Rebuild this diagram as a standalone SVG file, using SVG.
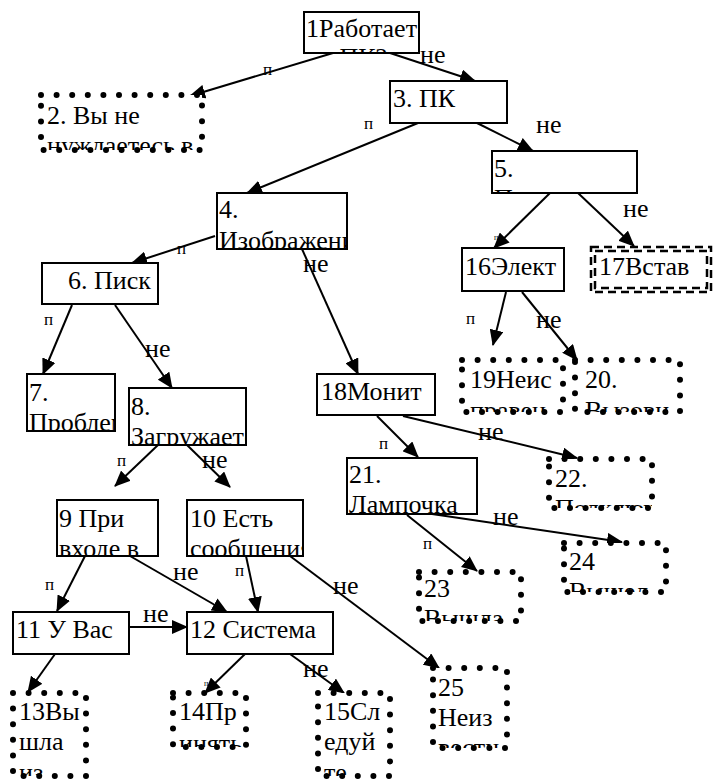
<svg xmlns="http://www.w3.org/2000/svg" width="715" height="780" viewBox="0 0 715 780" font-family="'Liberation Serif', 'Times New Roman', serif">
<style>
text{font-family:"Liberation Serif","Times New Roman",serif;font-size:26px;fill:#000}
text.y{font-size:17px}
text.t{font-size:8px}
.b{fill:#fff;stroke:#000;stroke-width:2}
.d{fill:#fff;stroke:#000;stroke-width:6;stroke-linecap:round;stroke-dasharray:0 15.6}
.dd{fill:none;stroke:#000;stroke-width:2.5;stroke-dasharray:8 5}
.c line{stroke:#000;stroke-width:2;marker-end:url(#ah)}
</style>
<defs>
<marker id="ah" markerWidth="16" markerHeight="14" refX="15" refY="7" orient="auto" markerUnits="userSpaceOnUse"><path d="M0,0 L16,7 L0,14 z" fill="#000"/></marker>
</defs>
<rect width="715" height="780" fill="#fff"/>
<g class="c" id="connectors">
<line x1="333" y1="53" x2="190" y2="96"/>
<line x1="390" y1="53" x2="475" y2="81"/>
<line x1="418" y1="123" x2="247" y2="193"/>
<line x1="477" y1="123" x2="533" y2="151"/>
<line x1="550" y1="193" x2="494" y2="248"/>
<line x1="578" y1="193" x2="634" y2="246"/>
<line x1="215" y1="236" x2="132" y2="263"/>
<line x1="302" y1="249" x2="358" y2="374"/>
<line x1="72" y1="305" x2="43" y2="374"/>
<line x1="115" y1="305" x2="172" y2="388"/>
<line x1="158" y1="445" x2="115" y2="486"/>
<line x1="187" y1="445" x2="230" y2="487"/>
<line x1="85" y1="556" x2="57" y2="611"/>
<line x1="130" y1="556" x2="227" y2="612"/>
<line x1="246" y1="556" x2="258" y2="612"/>
<line x1="290" y1="556" x2="439" y2="668"/>
<line x1="129" y1="627" x2="187" y2="627"/>
<line x1="55" y1="654" x2="28" y2="692"/>
<line x1="245" y1="654" x2="205" y2="693"/>
<line x1="290" y1="654" x2="344" y2="693"/>
<line x1="506" y1="292" x2="493" y2="345"/>
<line x1="522" y1="292" x2="577" y2="360"/>
<line x1="377" y1="416" x2="418" y2="457"/>
<line x1="403" y1="416" x2="577" y2="458"/>
<line x1="407" y1="515" x2="477" y2="571"/>
<line x1="432" y1="514" x2="622" y2="542"/>
</g>
<g id="labels">
<text x="420" y="63">не</text>
<text x="536" y="133">не</text>
<text x="623" y="217">не</text>
<text x="303" y="272">не</text>
<text x="145" y="357">не</text>
<text x="202" y="468">не</text>
<text x="173" y="580">не</text>
<text x="333" y="594">не</text>
<text x="143" y="622">не</text>
<text x="303" y="677">не</text>
<text x="536" y="328">не</text>
<text x="478" y="440">не</text>
<text x="493" y="525">не</text>
<text class="y" x="263" y="75">п</text>
<text class="y" x="364" y="129">п</text>
<text class="y" x="177" y="254">п</text>
<text class="y" x="44" y="325">п</text>
<text class="y" x="117" y="466">п</text>
<text class="y" x="45" y="590">п</text>
<text class="y" x="235" y="576">п</text>
<text class="y" x="466" y="324">п</text>
<text class="y" x="379" y="449">п</text>
<text class="y" x="423" y="549">п</text>
<text class="t" x="494" y="240">п</text>
<text class="t" x="204" y="686">п</text>
</g>
<g id="n1"><rect class="b" x="304" y="12" width="115" height="41"/><svg x="304" y="12" width="115" height="41" viewBox="304 12 115 41"><text x="306" y="37">1Работает</text><text x="306" y="66">ли ПК?</text></svg></g>
<g id="n2"><rect class="d" x="41" y="95" width="161" height="55"/><svg x="41" y="95" width="161" height="55" viewBox="41 95 161 55"><text x="47" y="124">2. Вы не</text><text x="47" y="154">нуждаетесь в</text></svg></g>
<g id="n3"><rect class="b" x="390" y="81" width="117" height="42"/><svg x="390" y="81" width="117" height="42" viewBox="390 81 117 42"><text x="393" y="107">3. ПК</text></svg></g>
<g id="n4"><rect class="b" x="217" y="193" width="130" height="56"/><svg x="217" y="193" width="130" height="56" viewBox="217 193 130 56"><text x="219" y="218">4.</text><text x="219" y="249">Изображение</text></svg></g>
<g id="n5"><rect class="b" x="492" y="151" width="145" height="42"/><svg x="492" y="151" width="145" height="42" viewBox="492 151 145 42"><text x="494" y="177">5.</text><text x="494" y="207">Питание</text></svg></g>
<g id="n6"><rect class="b" x="42" y="263" width="116" height="41"/><svg x="42" y="263" width="116" height="41" viewBox="42 263 116 41"><text x="68" y="289">6. Писк</text></svg></g>
<g id="n7"><rect class="b" x="27" y="374" width="88" height="57"/><svg x="27" y="374" width="88" height="57" viewBox="27 374 88 57"><text x="29" y="401">7.</text><text x="29" y="431">Проблема</text></svg></g>
<g id="n8"><rect class="b" x="129" y="388" width="117" height="57"/><svg x="129" y="388" width="117" height="57" viewBox="129 388 117 57"><text x="131" y="415">8.</text><text x="131" y="445">Загружается</text></svg></g>
<g id="n9"><rect class="b" x="57" y="500" width="101" height="56"/><svg x="57" y="500" width="101" height="56" viewBox="57 500 101 56"><text x="59" y="527">9 При</text><text x="59" y="557">входе в</text></svg></g>
<g id="n10"><rect class="b" x="187" y="500" width="116" height="56"/><svg x="187" y="500" width="116" height="56" viewBox="187 500 116 56"><text x="190" y="527">10 Есть</text><text x="190" y="557">сообщения</text></svg></g>
<g id="n11"><rect class="b" x="13" y="612" width="116" height="42"/><svg x="13" y="612" width="116" height="42" viewBox="13 612 116 42"><text x="16" y="638">11 У Вас</text></svg></g>
<g id="n12"><rect class="b" x="187" y="612" width="146" height="42"/><svg x="187" y="612" width="146" height="42" viewBox="187 612 146 42"><text x="190" y="638">12 Система</text></svg></g>
<g id="n13"><rect class="d" x="13" y="693" width="73" height="83"/><svg x="13" y="693" width="73" height="83" viewBox="13 693 73 83"><text x="19" y="720">13Вы</text><text x="19" y="750">шла</text><text x="19" y="781">из</text></svg></g>
<g id="n14"><rect class="d" x="173" y="693" width="73" height="54"/><svg x="173" y="693" width="73" height="54" viewBox="173 693 73 54"><text x="179" y="720">14Пр</text><text x="179" y="752">инять</text></svg></g>
<g id="n15"><rect class="d" x="318" y="693" width="72" height="83"/><svg x="318" y="693" width="72" height="83" viewBox="318 693 72 83"><text x="324" y="720">15Сл</text><text x="324" y="750">едуй</text><text x="324" y="781">те</text></svg></g>
<g id="n16"><rect class="b" x="462" y="248" width="102" height="43"/><svg x="462" y="248" width="102" height="43" viewBox="462 248 102 43"><text x="465" y="275">16Элект</text></svg></g>
<g id="n17"><rect fill="#fff" x="590" y="246" width="122" height="47"/><rect class="dd" x="591" y="247" width="120" height="45"/><rect class="dd" x="595" y="251" width="112" height="37"/><svg x="590" y="246" width="122" height="47" viewBox="590 246 122 47"><text x="599" y="275">17Встав</text></svg></g>
<g id="n18"><rect class="b" x="317" y="374" width="118" height="41"/><svg x="317" y="374" width="118" height="41" viewBox="317 374 118 41"><text x="321" y="400">18Монит</text></svg></g>
<g id="n19"><rect class="d" x="462" y="360" width="101" height="52"/><svg x="462" y="360" width="101" height="52" viewBox="462 360 101 52"><text x="470" y="388">19Неис</text><text x="470" y="419">правен</text></svg></g>
<g id="n20"><rect class="d" x="575" y="360" width="105" height="52"/><svg x="575" y="360" width="105" height="52" viewBox="575 360 105 52"><text x="585" y="388">20.</text><text x="585" y="419">Вызови</text></svg></g>
<g id="n21"><rect class="b" x="347" y="458" width="130" height="56"/><svg x="347" y="458" width="130" height="56" viewBox="347 458 130 56"><text x="349" y="483">21.</text><text x="349" y="513">Лампочка</text></svg></g>
<g id="n22"><rect class="d" x="549" y="459" width="103" height="49"/><svg x="549" y="459" width="103" height="49" viewBox="549 459 103 49"><text x="555" y="487">22.</text><text x="555" y="517">Подключ</text></svg></g>
<g id="n23"><rect class="d" x="419" y="572" width="102" height="49"/><svg x="419" y="572" width="102" height="49" viewBox="419 572 102 49"><text x="424" y="597">23</text><text x="424" y="627">Вышла</text></svg></g>
<g id="n24"><rect class="d" x="564" y="543" width="102" height="49"/><svg x="564" y="543" width="102" height="49" viewBox="564 543 102 49"><text x="569" y="570">24</text><text x="569" y="600">Вышел</text></svg></g>
<g id="n25"><rect class="d" x="433" y="668" width="74" height="80"/><svg x="433" y="668" width="74" height="80" viewBox="433 668 74 80"><text x="438" y="696">25</text><text x="438" y="726">Неиз</text><text x="438" y="756">вестн</text></svg></g>
</svg>
